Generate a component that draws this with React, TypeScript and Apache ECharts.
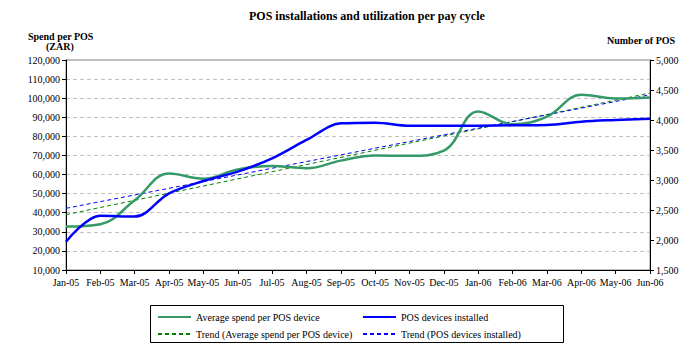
import React, { useEffect, useRef } from "react";
import * as echarts from "echarts";

const categories = ["Jan-05","Feb-05","Mar-05","Apr-05","May-05","Jun-05","Jul-05","Aug-05","Sep-05","Oct-05","Nov-05","Dec-05","Jan-06","Feb-06","Mar-06","Apr-06","May-06","Jun-06"];
const avgSpend = [32800, 34000, 46500, 60500, 57800, 62700, 64500, 63300, 67300, 70000, 69800, 72500, 93000, 86300, 90300, 101800, 99800, 100300];
const posInstalled = [1972, 2405, 2390, 2778, 2983, 3139, 3361, 3667, 3944, 3956, 3906, 3906, 3906, 3911, 3917, 3972, 4000, 4022];
// trend line end points [first category, last category]
const trendSpend = [39000, 102700];
const trendPos = [2528, 4420];

const serif = "Liberation Serif";

export default function App() {
  const ref = useRef<HTMLDivElement>(null);
  useEffect(() => {
    const chart = echarts.init(ref.current!, undefined, { renderer: "svg" });
    const last = categories.length - 1;
    const legendCommon = {
      orient: "vertical",
      top: 307,
      itemGap: 7,
      itemWidth: 33,
      itemHeight: 10,
      itemStyle: { opacity: 0 },
      textStyle: { fontFamily: serif, fontSize: 10, color: "#000" },
    };
    chart.setOption({
      animation: false,
      textStyle: { fontFamily: serif },
      title: {
        text: "POS installations and utilization per pay cycle",
        left: 249,
        top: 10,
        padding: 0,
        textStyle: { fontFamily: serif, fontSize: 12, fontWeight: "bold", color: "#000" },
      },
      graphic: [
        { type: "text", left: 28, top: 31, style: { text: "Spend per POS", fontFamily: serif, fontSize: 10, fontWeight: "bold", fill: "#000" } },
        { type: "text", left: 46, top: 41, style: { text: "(ZAR)", fontFamily: serif, fontSize: 10, fontWeight: "bold", fill: "#000" } },
        { type: "text", left: 607, top: 35, style: { text: "Number of POS", fontFamily: serif, fontSize: 10, fontWeight: "bold", fill: "#000" } },
        { type: "rect", shape: { x: 150.5, y: 305.5, width: 413, height: 37 }, style: { fill: "none", stroke: "#000", lineWidth: 1 } },
      ],
      grid: { left: 66, right: 46, top: 60, bottom: 83, show: true, borderColor: "#808080", borderWidth: 1 },
      legend: [
        { ...legendCommon, left: 152, data: ["Average spend per POS device", "Trend (Average spend per POS device)"] },
        { ...legendCommon, left: 357, data: ["POS devices installed", "Trend (POS devices installed)"] },
      ],
      xAxis: {
        type: "category",
        data: categories,
        boundaryGap: false,
        axisLine: { lineStyle: { color: "#000", width: 1 } },
        axisTick: { show: true, length: 4, lineStyle: { color: "#000" } },
        axisLabel: { fontFamily: serif, fontSize: 10, color: "#000", margin: 7, interval: 0 },
      },
      yAxis: [
        {
          type: "value",
          min: 10000,
          max: 120000,
          interval: 10000,
          axisLine: { show: true, lineStyle: { color: "#000" } },
          axisTick: { show: true, length: 4, lineStyle: { color: "#000" } },
          axisLabel: {
            fontFamily: serif, fontSize: 10, color: "#000", margin: 6,
            formatter: (v: number) => v.toLocaleString("en-US"),
          },
          splitLine: { show: true, lineStyle: { color: "#c0c0c0", type: [4, 3], width: 1 } },
        },
        {
          type: "value",
          min: 1500,
          max: 5000,
          interval: 500,
          position: "right",
          axisLine: { show: true, lineStyle: { color: "#000" } },
          axisTick: { show: true, length: 4, lineStyle: { color: "#000" } },
          axisLabel: {
            fontFamily: serif, fontSize: 10, color: "#000", margin: 6,
            formatter: (v: number) => v.toLocaleString("en-US"),
          },
          splitLine: { show: false },
        },
      ],
      series: [
        {
          name: "Average spend per POS device",
          type: "line",
          yAxisIndex: 0,
          data: avgSpend,
          smooth: 0.4,
          showSymbol: false,
          symbol: "none",
          lineStyle: { color: "#339966", width: 2.5 },
          itemStyle: { color: "#339966" },
          z: 3,
        },
        {
          name: "POS devices installed",
          type: "line",
          yAxisIndex: 1,
          data: posInstalled,
          smooth: 0.35,
          showSymbol: false,
          symbol: "none",
          lineStyle: { color: "#0000ff", width: 2.5 },
          itemStyle: { color: "#0000ff" },
          z: 4,
        },
        {
          name: "Trend (Average spend per POS device)",
          type: "line",
          yAxisIndex: 0,
          data: [[0, trendSpend[0]], [last, trendSpend[1]]],
          showSymbol: false,
          symbol: "none",
          lineStyle: { color: "#008000", width: 1, type: [4, 3] },
          itemStyle: { color: "#008000" },
          z: 2,
        },
        {
          name: "Trend (POS devices installed)",
          type: "line",
          yAxisIndex: 1,
          data: [[0, trendPos[0]], [last, trendPos[1]]],
          showSymbol: false,
          symbol: "none",
          lineStyle: { color: "#0000ff", width: 1, type: [4, 3] },
          itemStyle: { color: "#0000ff" },
          z: 2,
        },
      ],
    });
    return () => chart.dispose();
  }, []);
  return <div ref={ref} style={{ width: 696, height: 353, position: "absolute", left: 0, top: 0, background: "#fff" }} />;
}
